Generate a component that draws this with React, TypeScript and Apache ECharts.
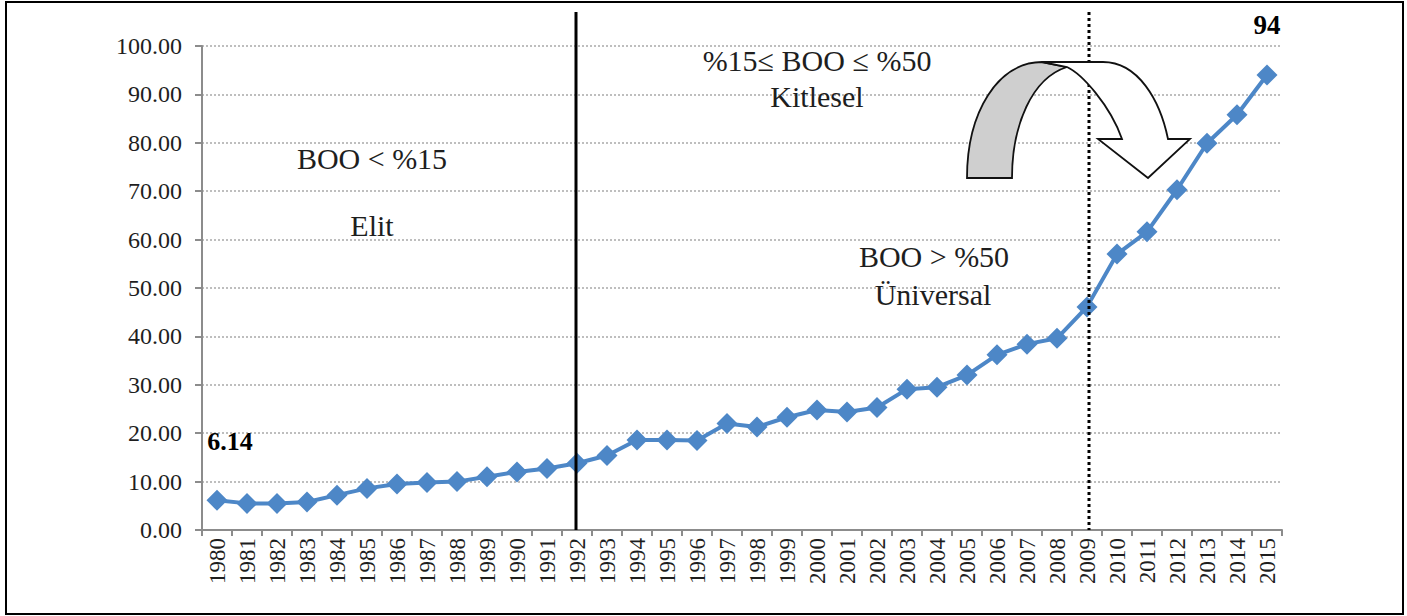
import React, { useEffect, useRef } from "react";
import * as echarts from "echarts";

const years = [
  "1980", "1981", "1982", "1983", "1984", "1985", "1986", "1987", "1988", "1989",
  "1990", "1991", "1992", "1993", "1994", "1995", "1996", "1997", "1998", "1999",
  "2000", "2001", "2002", "2003", "2004", "2005", "2006", "2007", "2008", "2009",
  "2010", "2011", "2012", "2013", "2014", "2015",
];

const boo = [
  6.14, 5.5, 5.5, 5.8, 7.2, 8.6, 9.5, 9.8, 10.0, 11.0,
  12.0, 12.7, 13.8, 15.4, 18.6, 18.6, 18.5, 22.0, 21.3, 23.3,
  24.8, 24.4, 25.3, 29.1, 29.5, 32.0, 36.2, 38.4, 39.6, 46.1,
  57.0, 61.6, 70.3, 79.9, 85.8, 94.0,
];

const firstLabel = "6.14";
const lastLabel = "94";
const eliteYear = "1992";
const universalYear = "2009";

const SERIF = "'Liberation Serif', 'Times New Roman', serif";
const BLUE = "#4d87c7";
const TXT = "#1e1e1e";

const grayPath =
  "M967,178 C967,112 998,62 1042,62 L1067,67 C1032,78 1012,125 1012,178 Z";
const whitePath =
  "M1067,67 C1082,74 1110,105 1122,139 L1098,139 L1148,178 L1190,139 L1168,139 C1160,100 1138,62 1103,62 L1042,62 Z";

echarts.graphic.registerShape("arrowGray", echarts.graphic.extendPath(grayPath, {}) as any);
echarts.graphic.registerShape("arrowWhite", echarts.graphic.extendPath(whitePath, {}) as any);

export default function App() {
  const ref = useRef<HTMLDivElement>(null);
  useEffect(() => {
    if (!ref.current) return;
    const chart = echarts.init(ref.current, null, { renderer: "svg" });
    const data = boo.map((v, i) => {
      if (i === 0) {
        return {
          value: v,
          label: {
            show: true,
            formatter: firstLabel,
            position: "top",
            distance: 35,
            offset: [13, 0],
            fontFamily: SERIF,
            fontWeight: "bold",
            fontSize: 26,
            color: "#000",
          },
        };
      }
      if (i === boo.length - 1) {
        return {
          value: v,
          label: {
            show: true,
            formatter: lastLabel,
            position: "top",
            distance: 26,
            offset: [0, 0],
            fontFamily: SERIF,
            fontWeight: "bold",
            fontSize: 27,
            color: "#000",
          },
        };
      }
      return v;
    });
    chart.setOption({
      animation: false,
      backgroundColor: "#ffffff",
      grid: { left: 202, right: 125, top: 46, bottom: 86, containLabel: false },
      xAxis: {
        type: "category",
        data: years,
        boundaryGap: true,
        axisLine: { lineStyle: { color: "#8c8c8c", width: 2 } },
        axisTick: { show: true, length: 6, lineStyle: { color: "#8c8c8c", width: 2 } },
        axisLabel: {
          rotate: 90,
          interval: 0,
          fontFamily: SERIF,
          fontSize: 23,
          color: TXT,
          margin: 8,
        },
        splitLine: { show: false },
      },
      yAxis: {
        type: "value",
        min: 0,
        max: 100,
        interval: 10,
        axisLine: { show: true, lineStyle: { color: "#8c8c8c", width: 2 } },
        axisTick: { show: true, length: 7, lineStyle: { color: "#8c8c8c", width: 2 } },
        axisLabel: {
          formatter: (v: number) => v.toFixed(2),
          fontFamily: SERIF,
          fontSize: 24,
          color: TXT,
          margin: 20,
        },
        splitLine: { show: true, lineStyle: { color: "#a9a9a9", type: [2, 2], width: 1.5 } },
      },
      series: [
        {
          type: "line",
          data,
          symbol: "diamond",
          symbolSize: 21,
          lineStyle: { color: BLUE, width: 4 },
          itemStyle: { color: BLUE },
          z: 3,
        },
      ],
    });

    const xa = chart.convertToPixel({ xAxisIndex: 0 }, eliteYear) as number;
    const xb = (chart.convertToPixel({ xAxisIndex: 0 }, universalYear) as number) + 2;
    const y0 = chart.convertToPixel({ yAxisIndex: 0 }, 0) as number;

    const textStyle = (t: string, x: number, y: number, size = 30) => ({
      type: "text",
      x,
      y,
      style: {
        text: t,
        fontFamily: SERIF,
        fontSize: size,
        fill: TXT,
        align: "center",
        verticalAlign: "middle",
      },
      z: 10,
    });

    chart.setOption({
      graphic: [
        {
          type: "rect",
          shape: { x: 6, y: 2, width: 1397, height: 612 },
          style: { fill: "none", stroke: "#000", lineWidth: 2 },
          z: 1,
        },
        {
          type: "line",
          shape: { x1: xa - 1, y1: 12, x2: xa - 1, y2: y0 },
          style: { stroke: "#000", lineWidth: 3 },
          z: 5,
        },
        {
          type: "line",
          shape: { x1: xb, y1: 12, x2: xb, y2: y0 },
          style: { stroke: "#000", lineWidth: 3, lineDash: [3, 3] },
          z: 5,
        },
        {
          type: "arrowGray",
          x: 0,
          y: 0,
          style: { fill: "#cfcfcf", stroke: "#111", lineWidth: 1.8 },
          z: 12,
        },
        {
          type: "arrowWhite",
          x: 0,
          y: 0,
          style: { fill: "#ffffff", stroke: "#111", lineWidth: 1.8 },
          z: 12,
        },
        textStyle("BOO < %15", 372, 158),
        textStyle("Elit", 372, 225),
        textStyle("%15\u2264 BOO \u2264 %50", 817, 60),
        textStyle("Kitlesel", 817, 96),
        textStyle("BOO > %50", 934, 256),
        textStyle("Üniversal", 933, 294),
      ],
    });
    return () => chart.dispose();
  }, []);
  return (
    <div
      ref={ref}
      style={{ position: "fixed", left: 0, top: 0, width: 1407, height: 616, background: "#fff" }}
    />
  );
}
